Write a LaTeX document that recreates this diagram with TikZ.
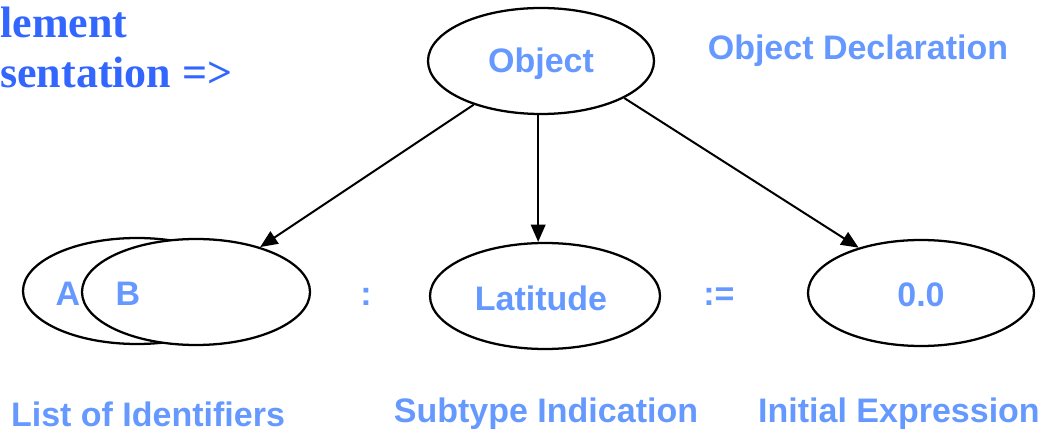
\documentclass[tikz,border=0pt]{standalone}
\usepackage{fontspec}
\newfontfamily\arialfont{Liberation Sans}
\newfontfamily\timesfont{Liberation Serif}
\usetikzlibrary{shapes.geometric,arrows.meta}
\definecolor{lblue}{RGB}{102,153,255}
\definecolor{dblue}{RGB}{51,102,255}
\tikzset{
  ell/.style={draw=black, line width=1.7pt, ellipse, inner sep=0pt,
    minimum width=#1*1.5pt, minimum height=106*0.75pt, text=lblue,
    font=\arialfont\bfseries\fontsize{25.5}{28}\selectfont},
  lbl/.style={text=lblue, inner sep=0pt, font=\arialfont\bfseries\fontsize{25.5}{28}\selectfont},
  ser/.style={text=dblue, inner sep=0pt, anchor=base west, font=\timesfont\bfseries\fontsize{33}{36}\selectfont},
  arr/.style={line width=1.5pt, -{Triangle[length=13pt,width=11pt]}}
}
\begin{document}
\begin{tikzpicture}[x=0.75pt,y=-0.75pt]
\useasboundingbox (0,0) rectangle (1056,434);
\node[ser] (t1) at (0,38) {lement};
\node[ser] (t2) at (0,88) {sentation =>};
\node[ell=113] (obj) at (541,61) {};
\node[lbl] (objtxt) at (541,64) {Object};
\node[lbl] (decl) at (858,51) {Object Declaration};
\node[ell=114] (a) at (137,291) {};
\node[lbl] (atxt) at (68,294) {A};
\node[ell=114,fill=white] (b) at (196,292) {};
\node[lbl] (btxt) at (128,294) {B};
\node[lbl] (colon) at (366,297) {:};
\node[ell=115] (lat) at (545,296) {};
\node[lbl] (lattxt) at (541,298) {Latitude};
\node[lbl] (assign) at (719,297) {:=};
\node[ell=113] (init) at (921,293) {};
\node[lbl] (inittxt) at (921,295) {0.0};
\node[lbl] (l1) at (148,414) {List of Identifiers};
\node[lbl] (l2) at (546,414) {Subtype Indication};
\node[lbl] (l3) at (899,414) {Initial Expression};
\draw[arr] (obj.{213}) -- (b.{35});
\draw[arr] (obj.{267}) -- (obj.{267} |- lat.north);
\draw[arr] (obj.{336}) -- (init.{144});
\end{tikzpicture}
\end{document}
